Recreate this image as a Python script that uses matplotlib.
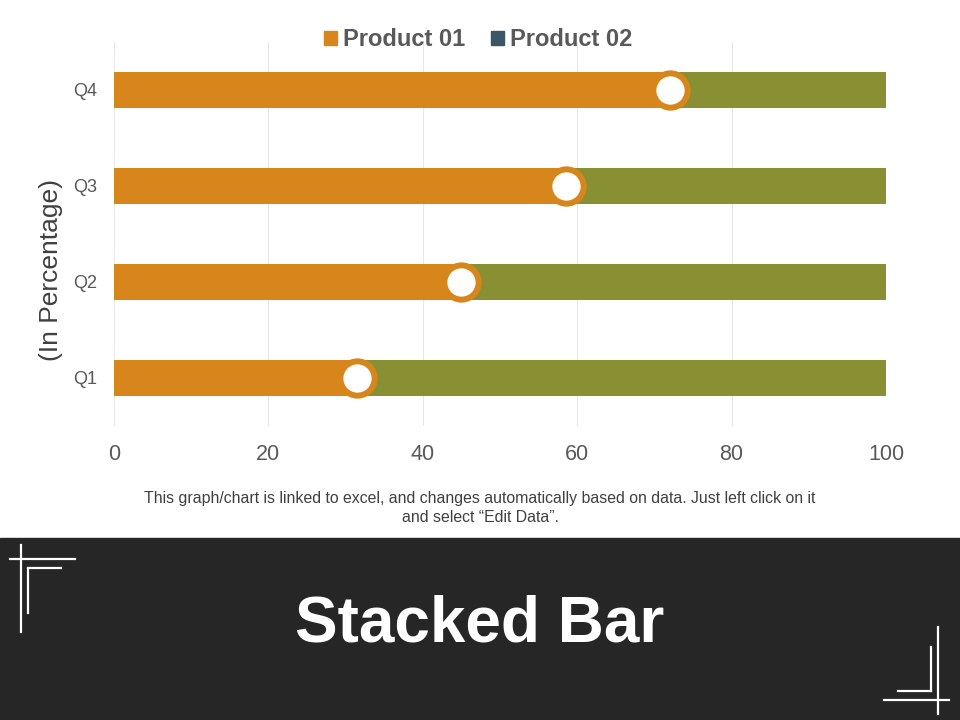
import numpy as np
import matplotlib
matplotlib.use("Agg")
import matplotlib.pyplot as plt
from matplotlib.patches import Rectangle, Patch
from matplotlib.lines import Line2D

plt.rcParams['font.family'] = ['Liberation Sans', 'DejaVu Sans']

# ------------------------------------------
# Data
# ------------------------------------------
quarters = ["Q1", "Q2", "Q3", "Q4"]
product_01 = [31.5, 45.0, 58.5, 72.0]
product_02 = [68.5, 55.0, 41.5, 28.0]
x_ticks = [0, 20, 40, 60, 80, 100]

ORANGE = "#D6861A"
OLIVE = "#899033"
SLATE = "#3B5667"
DARK = "#262626"
GREY = "#595959"

fig = plt.figure(figsize=(9.6, 7.2), dpi=100)

# ------------------------------------------
# Main chart
# ------------------------------------------
ax = fig.add_axes([114 / 960, 1 - 426 / 720, 772 / 960, 384 / 720])
y = np.arange(len(quarters))
ax.barh(y, product_01, height=0.385, color=ORANGE, zorder=2)
ax.barh(y, product_02, left=product_01, height=0.385, color=OLIVE, zorder=2)
ax.scatter(product_01, y, s=610, facecolor="white", edgecolor=ORANGE,
           linewidth=4.3, zorder=3)

ax.set_xlim(0, 100)
ax.set_ylim(-0.5, 3.5)
ax.set_xticks(x_ticks)
ax.set_yticks(y)
ax.set_yticklabels(quarters)
ax.tick_params(axis="x", length=0, labelsize=15.5, colors=GREY, pad=13)
ax.tick_params(axis="y", length=0, labelsize=13, colors=GREY, pad=12)
ax.grid(axis="x", color="#E8E8E8", linewidth=0.8, zorder=0)
for s in ax.spines.values():
    s.set_visible(False)
ax.set_ylabel("(In Percentage)", fontsize=19, color="#404040")
ax.yaxis.set_label_coords((63 - 114) / 772, (426 - 270) / 384)

handles = [Patch(color=ORANGE, label="Product 01"),
           Patch(color=SLATE, label="Product 02")]
fig.legend(handles=handles, loc="center", bbox_to_anchor=(478 / 960, 1 - 40 / 720),
           ncol=2, frameon=False, handlelength=0.55, handleheight=0.55,
           handletextpad=0.25, columnspacing=1.1,
           prop={"size": 17, "weight": "bold"}, labelcolor=GREY)

fig.text(0.5, 1 - 498 / 720,
         "This graph/chart is linked to excel, and changes automatically based on data. Just left click on it",
         ha="center", va="center", fontsize=11.4, color="#404040")
fig.text(0.5, 1 - 518 / 720, "and select \u201cEdit Data\u201d.",
         ha="center", va="center", fontsize=11.4, color="#404040")

# ------------------------------------------
# Title banner
# ------------------------------------------
bg = fig.add_axes([0, 0, 1, 1], zorder=-1)
bg.set_xlim(0, 960)
bg.set_ylim(720, 0)
bg.axis("off")
bg.add_patch(Rectangle((0, 538), 960, 182, color=DARK))

corner_lines = [
    ((10, 75), (559, 559)), ((21, 21), (545, 632)),
    ((28, 61), (568, 568)), ((28, 28), (568, 613)),
    ((938, 938), (627, 714)), ((884, 949), (700, 700)),
    ((931, 931), (647, 691)), ((898, 931), (691, 691)),
]
for xs, ys in corner_lines:
    bg.add_line(Line2D(xs, ys, color="white", linewidth=1.6))

fig.text(0.5, 1 - 624 / 720, "Stacked Bar", ha="center", va="center",
         fontsize=46, fontweight="bold", color="white")

plt.savefig("out.png", dpi=100)
